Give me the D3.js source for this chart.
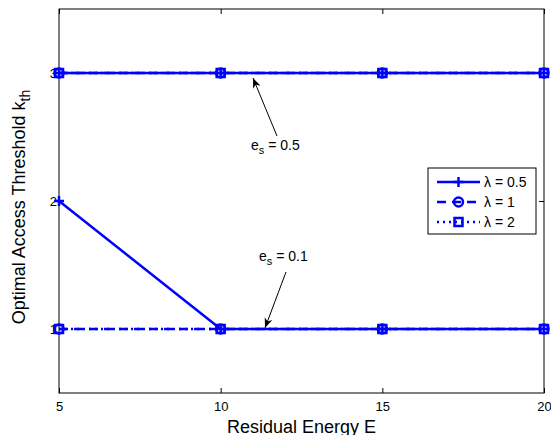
<!DOCTYPE html>
<html><head><meta charset="utf-8">
<script src="https://cdn.jsdelivr.net/npm/d3@7"></script>
<style>body{margin:0;background:#fff}svg{display:block}text{font-family:"Liberation Sans",Arial,sans-serif}</style>
</head><body>
<svg id="c" width="551" height="435"></svg>
<script>
const energy = [5, 10, 15, 20];
const xTicks = [5, 10, 15, 20];
const yTicks = [1, 2, 3];
// e_s = 0.5
const lam05_es05 = [3, 3, 3, 3];
const lam1_es05 = [3, 3, 3, 3];
const lam2_es05 = [3, 3, 3, 3];
// e_s = 0.1
const lam05_es01 = [2, 1, 1, 1];
const lam1_es01 = [1, 1, 1, 1];
const lam2_es01 = [1, 1, 1, 1];
const legendLabels = ["λ = 0.5", "λ = 1", "λ = 2"];

const svg = d3.select("#c");
const L = 59, R = 544, T = 9, B = 393;
const x = d3.scaleLinear().domain([5, 20]).range([L, R]);
const y = d3.scaleLinear().domain([0.5, 3.5]).range([B, T]);
const blue = "#0000ff";

// frame
svg.append("rect").attr("x", L).attr("y", T).attr("width", R - L).attr("height", B - T)
  .attr("fill", "none").attr("stroke", "#000").attr("stroke-width", 1);

// axes with inward ticks
const xb = svg.append("g").attr("transform", `translate(0,${B})`)
  .call(d3.axisBottom(x).tickValues(xTicks).tickSize(-5).tickPadding(9).tickFormat(d3.format("d")));
const xt = svg.append("g").attr("transform", `translate(0,${T})`)
  .call(d3.axisTop(x).tickValues(xTicks).tickSize(-5).tickFormat(""));
const yl = svg.append("g").attr("transform", `translate(${L},0)`)
  .call(d3.axisLeft(y).tickValues(yTicks).tickSize(-5).tickPadding(2).tickFormat(d3.format("d")));
const yr = svg.append("g").attr("transform", `translate(${R},0)`)
  .call(d3.axisRight(y).tickValues(yTicks).tickSize(-5).tickFormat(""));
[xb, xt, yl, yr].forEach(g => {
  g.select(".domain").remove();
  g.selectAll("text").attr("font-size", 13).attr("fill", "#000")
    .attr("font-family", "Liberation Sans, Arial, sans-serif");
  g.selectAll("line").attr("stroke", "#000");
});

// axis titles
svg.append("text").attr("x", (L + R) / 2).attr("y", 433).attr("text-anchor", "middle")
  .attr("font-size", 18).text("Residual Energy E");
const yt = svg.append("text").attr("transform", `translate(25,${(T + B) / 2 + 6}) rotate(-90)`)
  .attr("text-anchor", "middle").attr("font-size", 18);
yt.append("tspan").text("Optimal Access Threshold k");
yt.append("tspan").attr("font-size", 14).attr("dy", 5).text("th");

const line = d3.line().x((d, i) => x(energy[i])).y(d => y(d));
const styles = [
  { dash: null, marker: "plus" },
  { dash: "9,6", marker: "circle" },
  { dash: "2,4", marker: "square" }
];
const series = [
  [lam05_es05, 0], [lam2_es05, 2], [lam1_es05, 1],
  [lam05_es01, 0], [lam2_es01, 2], [lam1_es01, 1]
];
function drawMarker(g, kind, cx, cy) {
  if (kind === "plus") {
    g.append("path").attr("d", `M${cx - 5},${cy}H${cx + 5}M${cx},${cy - 5}V${cy + 5}`)
      .attr("stroke", blue).attr("stroke-width", 2.5).attr("fill", "none");
  } else if (kind === "circle") {
    g.append("circle").attr("cx", cx).attr("cy", cy).attr("r", 4.5)
      .attr("stroke", blue).attr("stroke-width", 2.5).attr("fill", "none");
  } else {
    g.append("rect").attr("x", cx - 4).attr("y", cy - 4).attr("width", 8).attr("height", 8)
      .attr("stroke", blue).attr("stroke-width", 2.5).attr("fill", "none");
  }
}
const plot = svg.append("g");
series.forEach(([vals, si]) => {
  const st = styles[si];
  plot.append("path").attr("d", line(vals)).attr("fill", "none").attr("stroke", blue)
    .attr("stroke-width", 2.5).attr("stroke-dasharray", st.dash);
  vals.forEach((v, i) => drawMarker(plot, st.marker, x(energy[i]), y(v)));
});

// annotations
svg.append("defs").append("marker").attr("id", "ah").attr("viewBox", "0 0 10 10")
  .attr("refX", 10).attr("refY", 5).attr("markerWidth", 10).attr("markerHeight", 10)
  .attr("markerUnits", "userSpaceOnUse").attr("orient", "auto")
  .append("path").attr("d", "M0,1 L10,5 L0,9 L3,5 Z").attr("fill", "#000");
function annot(tx, ty, ax0, ay0, ax1, ay1, label) {
  svg.append("line").attr("x1", ax0).attr("y1", ay0).attr("x2", ax1).attr("y2", ay1)
    .attr("stroke", "#000").attr("stroke-width", 1).attr("marker-end", "url(#ah)");
  const t = svg.append("text").attr("x", tx).attr("y", ty).attr("font-size", 14);
  t.append("tspan").text("e");
  t.append("tspan").attr("font-size", 11).attr("dy", 4).text("s");
  t.append("tspan").attr("dy", -4).text(" = " + label);
}
annot(251, 150, 277, 136, 253, 78, "0.5");
annot(259, 261, 286, 272, 265, 328, "0.1");

// legend
const lg = svg.append("g");
lg.append("rect").attr("x", 428).attr("y", 168).attr("width", 108).attr("height", 66)
  .attr("fill", "#fff").attr("stroke", "#000").attr("stroke-width", 1);
legendLabels.forEach((lab, i) => {
  const yy = 182 + i * 20;
  lg.append("line").attr("x1", 437).attr("x2", 480).attr("y1", yy).attr("y2", yy)
    .attr("stroke", blue).attr("stroke-width", 2.5).attr("stroke-dasharray", styles[i].dash);
  drawMarker(lg, styles[i].marker, 458.5, yy);
  lg.append("text").attr("x", 484).attr("y", yy + 5).attr("font-size", 14).text(lab);
});
</script>
</body></html>
